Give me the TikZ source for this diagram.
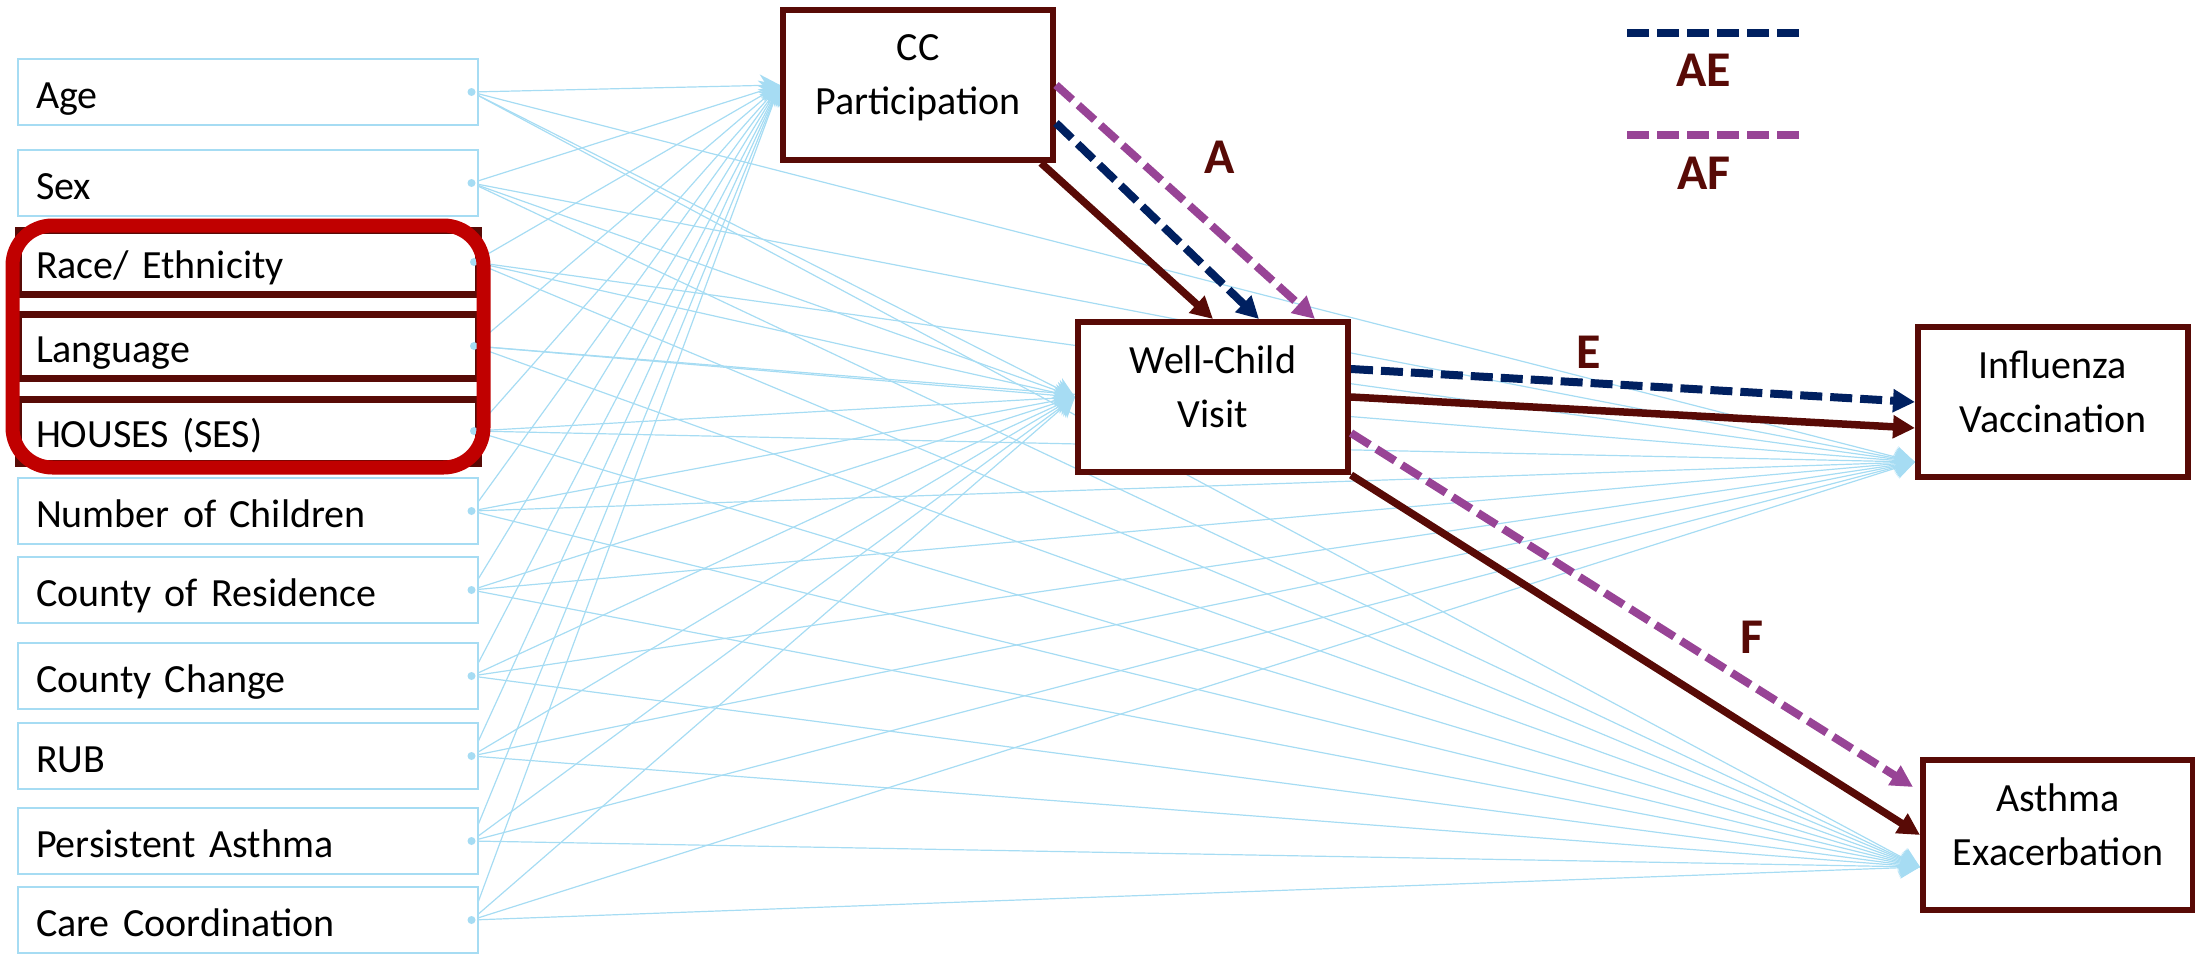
\documentclass[tikz,border=0pt]{standalone}
\usepackage{fontspec}
\setmainfont{Carlito}
\usetikzlibrary{arrows.meta,fit,backgrounds}

\definecolor{wine}{RGB}{88,10,6}
\definecolor{aeblue}{RGB}{0,32,96}
\definecolor{afpurple}{RGB}{152,68,150}
\definecolor{covblue}{RGB}{166,220,243}
\definecolor{ringred}{RGB}{192,0,0}

\tikzset{
  factor/.style={draw=covblue, line width=1pt, fill=white, minimum width=230pt,
    minimum height=33pt, inner xsep=9pt, text width=212pt, align=left,
    text height=17pt, text depth=1pt},
  keyfactor/.style={factor, draw=wine, line width=3.5pt, minimum height=32pt},
  stage/.style={draw=wine, line width=3pt, fill=white, minimum width=135pt,
    minimum height=75pt, inner sep=0pt, align=center, text depth=10pt},
  ring/.style={draw=ringred, line width=7pt, rounded corners=20pt, inner xsep=1pt, inner ysep=0.5pt},
  cov/.style={draw=covblue, line width=0.6pt, -{Stealth[length=10pt, width=11pt]}},
  mainarr/.style={draw=wine, line width=3.75pt, -{Triangle[length=11pt, width=11pt]}},
  aeline/.style={draw=aeblue, line width=4pt, dash pattern=on 11pt off 4pt},
  afline/.style={draw=afpurple, line width=4pt, dash pattern=on 11pt off 4pt},
  aearr/.style={aeline, -{Triangle[length=11pt, width=11pt]}},
  afarr/.style={afline, -{Triangle[length=11pt, width=11pt]}},
  pathlabel/.style={text=wine, font=\bfseries\fontsize{25}{30}\selectfont, inner sep=0pt}
}

\begin{document}
\begin{tikzpicture}[x=0.5pt, y=-0.5pt, font=\fontsize{20}{27}\selectfont]
  \useasboundingbox (0,0) rectangle (2195,953);

  % covariates down the left; race, language and SES are the key ones
  \foreach \n/\y/\s/\t in {age/92/factor/Age, sex/183/factor/Sex,
      race/262/keyfactor/{Race/ Ethnicity}, lang/346/keyfactor/Language,
      houses/431/keyfactor/{HOUSES (SES)}, kids/511/factor/Number of Children,
      county/590/factor/County of Residence, move/676/factor/County Change,
      rub/756/factor/RUB, persist/841/factor/Persistent Asthma,
      care/920/factor/Care Coordination} {
    \node[\s] (\n) at (248,\y) {\t};
  }

  % mediators and outcomes
  \node[stage] (cc) at (918,85) {CC\\Participation};
  \node[stage] (wcv) at (1213,397) {Well-Child\\Visit};
  \node[stage] (flu) at (2053,402) {Influenza\\Vaccination};
  \node[stage] (asthma) at (2058,835) {Asthma\\Exacerbation};

  % every covariate points at all four, drawn behind the boxes
  \coordinate (flu-in) at ([yshift=-30pt]flu.west);
  \coordinate (asthma-in) at ([yshift=-16pt]asthma.west);
  \begin{pgfonlayer}{background}
    \foreach \n in {age, sex, race, lang, houses, kids, county, move, rub, persist, care} {
      \coordinate (\n-dot) at ([xshift=-3.75pt]\n.east);
      \foreach \m in {cc.west, wcv.west, flu-in, asthma-in}
        \draw[cov] (\n-dot) -- (\m);
    }
  \end{pgfonlayer}
  \foreach \n in {age, sex, race, lang, houses, kids, county, move, rub, persist, care}
    \fill[covblue] (\n-dot) circle (2pt);

  \node[ring, fit=(race)(houses)] (key) {};

  % paths A, E, F and the two indirect ones
  \draw[mainarr] ([xshift=-7.5pt]cc.south east) -- (wcv.north);
  \draw[aearr] ([yshift=-19pt]cc.east) -- ([xshift=23pt]wcv.north);
  \draw[afarr] (cc.east) -- ([xshift=51pt]wcv.north);
  \draw[aearr] ([yshift=14pt]wcv.east) -- (flu.west);
  \draw[mainarr] (wcv.east) -- ([yshift=-13pt]flu.west);
  \draw[afarr] ([yshift=-18pt]wcv.east) -- ([xshift=-3.5pt, yshift=-15pt]asthma.north west);
  \draw[mainarr] (wcv.south east) -- (asthma.west);

  \node[pathlabel] (a-lab) at (1220,157) {A};
  \node[pathlabel] (e-lab) at (1589,352) {E};
  \node[pathlabel] (f-lab) at (1752,637) {F};

  % legend
  \coordinate (ae-from) at (1627,33);
  \coordinate (ae-to) at (1801,33);
  \draw[aeline] (ae-from) -- (ae-to);
  \node[pathlabel] (ae-key) at (1704,70) {AE};
  \coordinate (af-from) at (1627,135);
  \coordinate (af-to) at (1801,135);
  \draw[afline] (af-from) -- (af-to);
  \node[pathlabel] (af-key) at (1704,173) {AF};
\end{tikzpicture}
\end{document}
